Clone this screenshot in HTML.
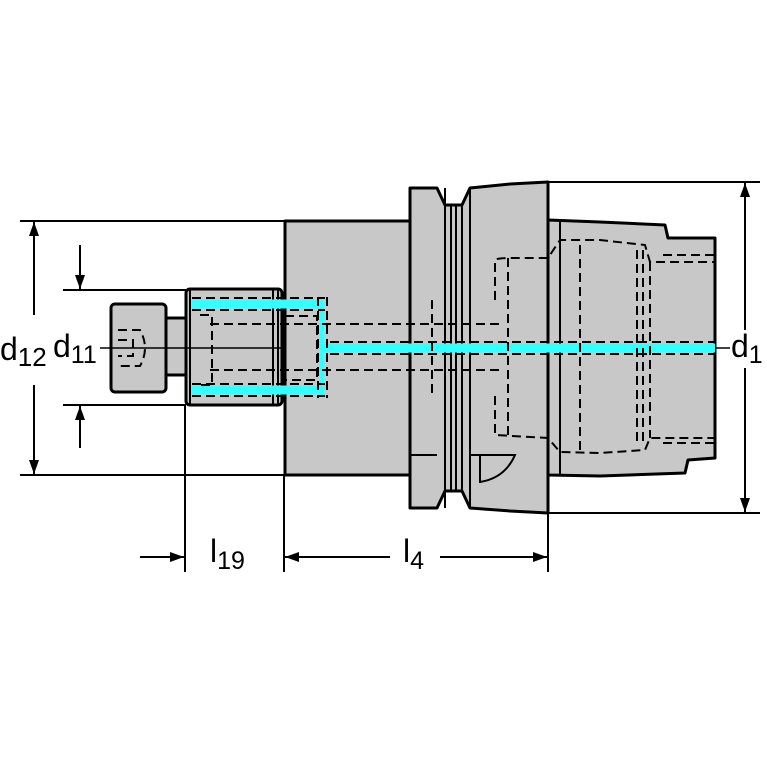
<!DOCTYPE html>
<html><head><style>body{margin:0;background:#fff}svg{display:block}</style></head><body>
<svg width="767" height="767" viewBox="0 0 767 767" xmlns="http://www.w3.org/2000/svg" font-family="Liberation Sans, sans-serif">
<defs>
<marker id="a" markerWidth="14" markerHeight="12" refX="14" refY="6" orient="auto" markerUnits="userSpaceOnUse"><path d="M0,1 L14,6 L0,11 z" fill="#000"/></marker>
</defs>
<g stroke="#000" stroke-width="2" fill="none">
<line x1="20" y1="221" x2="285" y2="221"/>
<line x1="20" y1="475" x2="285" y2="475"/>
<line x1="63" y1="290" x2="186" y2="290"/>
<line x1="63" y1="405" x2="186" y2="405"/>
<line x1="548" y1="182" x2="760" y2="182"/>
<line x1="548" y1="513" x2="760" y2="513"/>
<line x1="185" y1="405" x2="185" y2="572"/>
<line x1="284" y1="475" x2="284" y2="572"/>
<line x1="548" y1="513" x2="548" y2="572"/>
</g>
<g fill="#c8c8c8" stroke="#000" stroke-width="3" stroke-linejoin="round">
<rect x="285" y="221" width="126" height="254"/>
<path d="M410,188 L437,188 L445,205 L462,205 L470,188 L510,184 L548,182 L548,513 L510,511 L470,508 L462,491 L445,491 L437,508 L410,508 Z"/>
<path d="M548,220 L600,222 L665,225 L668,238 L715,238 L715,458 L688,460 L685,473 L600,476 L548,475 Z"/>
<rect x="186" y="289" width="96" height="116" rx="4"/>
<rect x="165" y="318" width="21" height="57"/>
<rect x="111" y="304" width="55" height="88" rx="4"/>
</g>
<g stroke="#000" stroke-width="2" fill="none">
<line x1="445" y1="188" x2="445" y2="508"/><line x1="451" y1="205" x2="451" y2="491"/><line x1="456" y1="205" x2="456" y2="491"/><line x1="462" y1="205" x2="462" y2="491"/><line x1="470" y1="188" x2="470" y2="508"/>
<line x1="560" y1="220" x2="560" y2="475"/>
<line x1="273" y1="289" x2="273" y2="405"/><line x1="278" y1="289" x2="278" y2="405"/>
<line x1="190" y1="289" x2="190" y2="405"/>
<path d="M410,455 L437,455 M470,455 L515,455 Q505,478 480,482 L480,455"/>
</g>
<g stroke="#3ff" stroke-width="9">
<line x1="192" y1="304" x2="320" y2="304"/>
<line x1="192" y1="390" x2="320" y2="390"/>
<line x1="322" y1="300" x2="322" y2="395" stroke-width="5"/>
<line x1="322" y1="348" x2="715" y2="348"/>
</g>
<g stroke="#000" stroke-width="2" fill="none" stroke-dasharray="9,5">
<line x1="192" y1="298" x2="325" y2="298"/><line x1="192" y1="310" x2="325" y2="310"/>
<line x1="192" y1="384" x2="325" y2="384"/><line x1="192" y1="396" x2="325" y2="396"/>
<line x1="318" y1="297" x2="318" y2="398"/><line x1="327" y1="297" x2="327" y2="398"/>
<line x1="210" y1="324" x2="500" y2="324"/><line x1="210" y1="370" x2="500" y2="370"/>
<line x1="330" y1="342" x2="715" y2="342"/><line x1="330" y1="354" x2="715" y2="354"/>
<rect x="285" y="316" width="32" height="64"/>
<line x1="432" y1="300" x2="432" y2="396"/>
<path d="M495,300 L495,260 Q497,258 510,258 L548,258 L560,240 L600,240 L645,245 L650,262 L715,262 M495,396 L495,435 L548,438 L560,452 L600,453 L645,450 L650,438 L715,438"/>
<line x1="508" y1="258" x2="508" y2="438"/>
<line x1="580" y1="245" x2="580" y2="452"/>
<line x1="637" y1="250" x2="637" y2="445"/><line x1="643" y1="250" x2="643" y2="445"/>
<line x1="650" y1="262" x2="650" y2="438"/>
<line x1="663" y1="255" x2="715" y2="255"/><line x1="663" y1="443" x2="715" y2="443"/>
<path d="M200,315 L212,315 L212,385 L200,385"/>
<path d="M118,330 L140,330 Q150,348 140,366 L118,366 M118,340 L133,340 L133,356 L118,356"/>
</g>
<line x1="100" y1="348" x2="285" y2="348" stroke="#000" stroke-width="1.5"/>
<line x1="715" y1="348" x2="730" y2="348" stroke="#000" stroke-width="1.5"/>
<g stroke="#000" stroke-width="2" marker-end="url(#a)">
<line x1="34" y1="315" x2="34" y2="222"/>
<line x1="34" y1="385" x2="34" y2="474"/>
<line x1="80" y1="245" x2="80" y2="289"/>
<line x1="80" y1="448" x2="80" y2="406"/>
<line x1="745" y1="330" x2="745" y2="183"/>
<line x1="745" y1="368" x2="745" y2="512"/>
<line x1="140" y1="557" x2="184" y2="557"/>
<line x1="390" y1="557" x2="285" y2="557"/>
<line x1="440" y1="557" x2="547" y2="557"/>
</g>
<g font-size="32" fill="#000">
<text x="0" y="360">d<tspan font-size="26" dy="6">12</tspan></text>
<text x="53" y="357">d<tspan font-size="25" dy="6">11</tspan></text>
<text x="731" y="357">d<tspan font-size="25" dy="6">1</tspan></text>
<text x="210" y="562">l<tspan font-size="25" dy="7">19</tspan></text>
<text x="403" y="562">l<tspan font-size="25" dy="7">4</tspan></text>
</g>
</svg>
</body></html>
